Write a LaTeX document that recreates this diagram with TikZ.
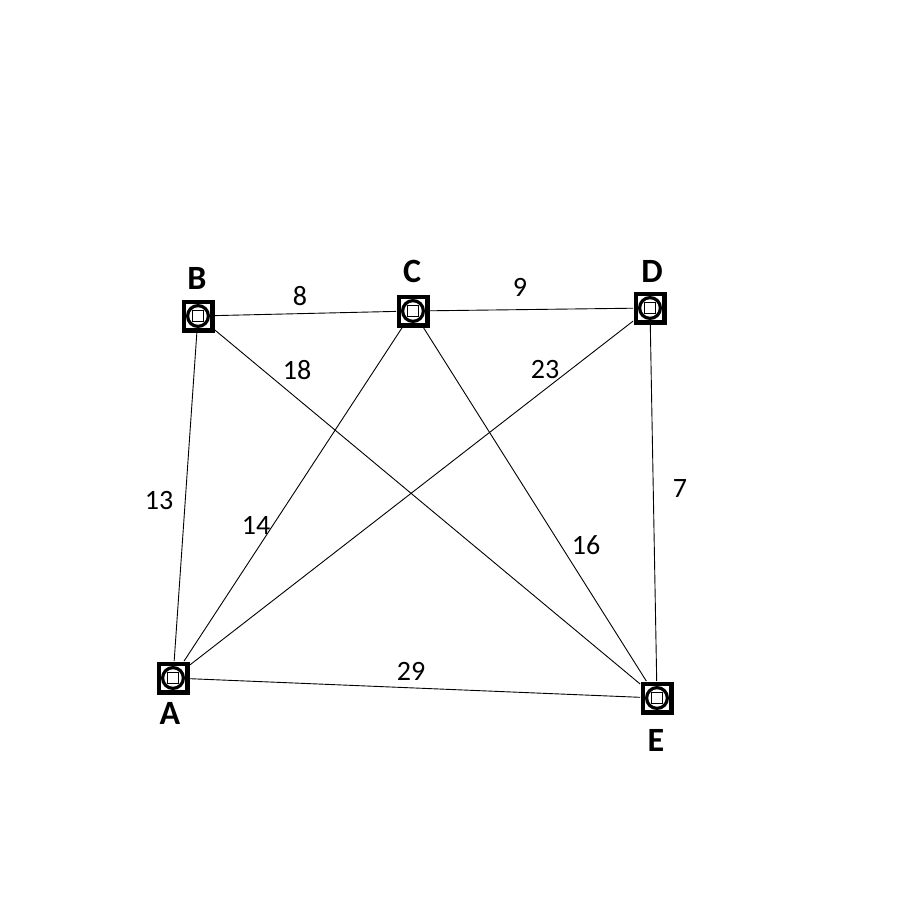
\documentclass[tikz,border=0pt]{standalone}
\usepackage{fontspec}
\setmainfont{Carlito}
\usetikzlibrary{calc}
\tikzset{
  station/.style={rectangle, fill=black, minimum size=16.5pt, inner sep=0pt,
    path picture={
      \fill[white, shift={(path picture bounding box.center)}] (-6pt,-6pt) rectangle (6pt,6pt);
      \draw[line width=1.6pt, shift={(path picture bounding box.center)}] (0,0) circle (5.2pt);
      \draw[line width=0.6pt, shift={(path picture bounding box.center)}] (-2.6pt,-2.6pt) rectangle (2.6pt,2.6pt);
    }},
  stationname/.style={font=\fontsize{17}{17}\selectfont\bfseries, inner sep=0pt},
  weight/.style={font=\fontsize{14}{15}\selectfont, inner sep=0pt},
  road/.style={line width=0.45pt}
}

\begin{document}
\begin{tikzpicture}[x=0.5pt, y=-0.5pt]
\useasboundingbox (0,0) rectangle (900,900);

% stations
\node [station] (A) at (173,678) {};
\node [station] (B) at (198,316) {};
\node [station] (C) at (413,311) {};
\node [station] (D) at (650,308) {};
\node [station] (E) at (657,698) {};

% station names
\node [stationname] (nA) at (170,713) {A};
\node [stationname] (nB) at (197,278) {B};
\node [stationname] (nC) at (412,271) {C};
\node [stationname] (nD) at (652,271) {D};
\node [stationname] (nE) at (656,740) {E};

% roads
\draw [road] (B) -- (C);
\draw [road] (C) -- (D);
\draw [road] (B) -- (A);
\draw [road] (B) -- (E);
\draw [road] (C) -- (A);
\draw [road] (D) -- (A);
\draw [road] (C) -- (E);
\draw [road] (D) -- (E);
\draw [road] (A) -- (E);

% weights
\node [weight] (w8) at (300,296) {8};
\node [weight] (w9) at (520,287) {9};
\node [weight] (w13) at (159,501) {13};
\node [weight] (w18) at (297,370) {18};
\node [weight] (w14) at (256,525) {14};
\node [weight] (w23) at (545,370) {23};
\node [weight] (w16) at (586,545) {16};
\node [weight] (w7) at (680,489) {7};
\node [weight] (w29) at (411,671) {29};

\end{tikzpicture}
\end{document}
